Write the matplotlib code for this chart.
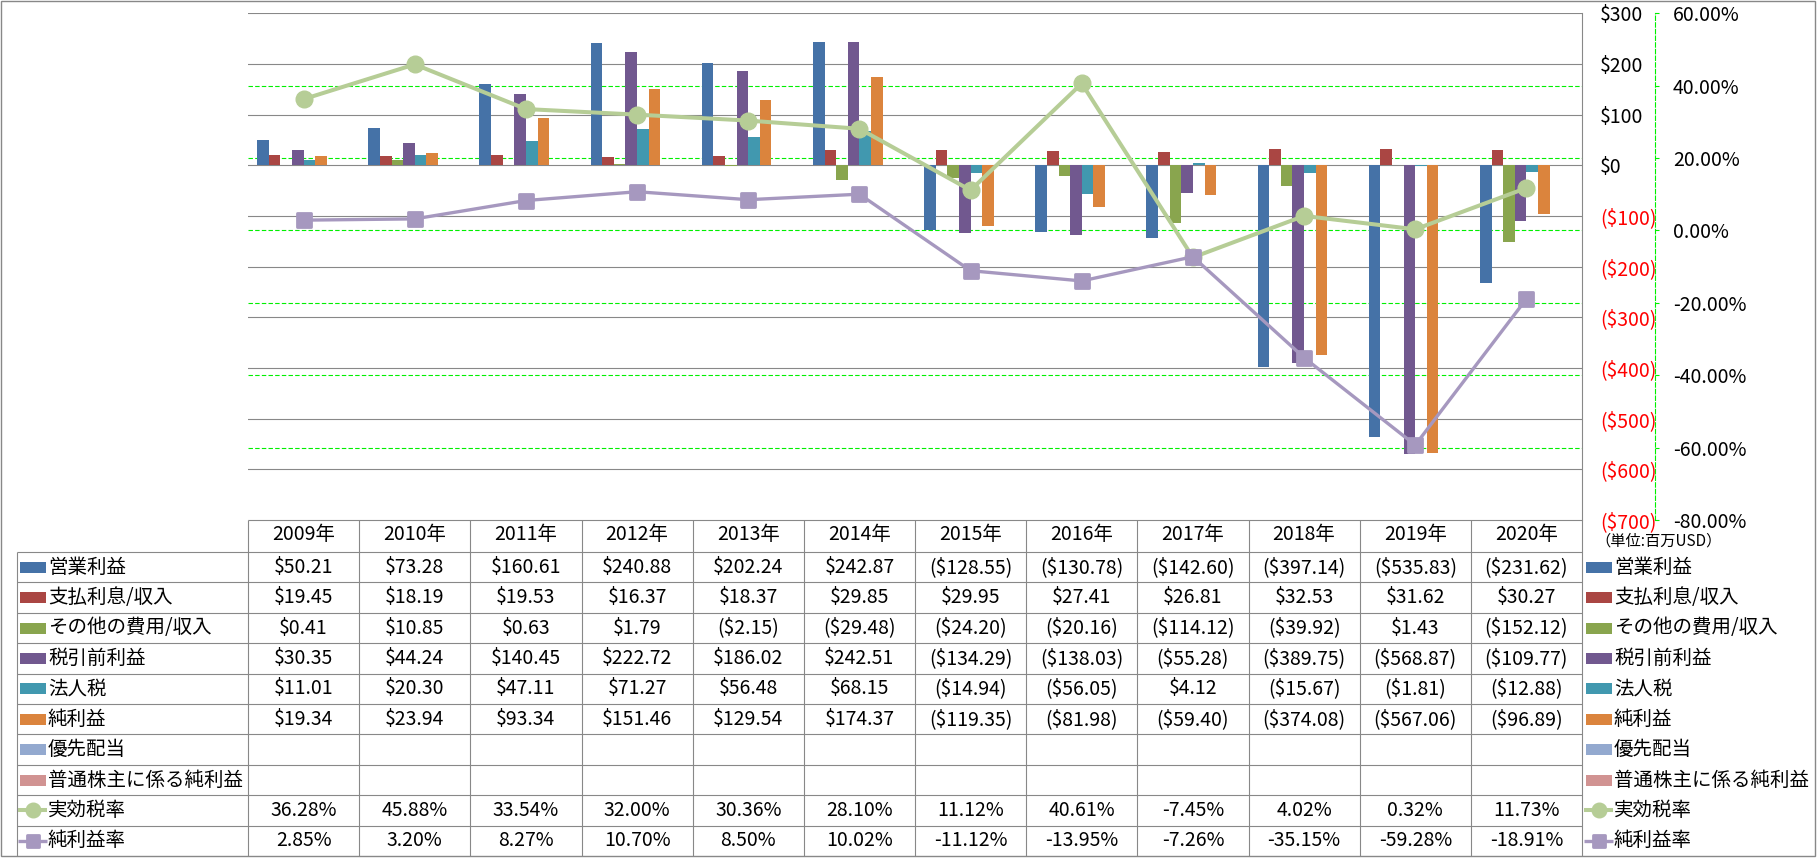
import matplotlib
matplotlib.use('Agg')
import matplotlib.pyplot as plt
import numpy as np
from matplotlib.markers import MarkerStyle
from matplotlib.patches import Rectangle
from matplotlib.lines import Line2D

plt.rcParams['font.family'] = ['Noto Sans CJK JP', 'DejaVu Sans']

# ---------------- data ----------------
years = ['2009年', '2010年', '2011年', '2012年', '2013年', '2014年',
         '2015年', '2016年', '2017年', '2018年', '2019年', '2020年']
operating_income = [50.21, 73.28, 160.61, 240.88, 202.24, 242.87,
                    -128.55, -130.78, -142.60, -397.14, -535.83, -231.62]
interest = [19.45, 18.19, 19.53, 16.37, 18.37, 29.85,
            29.95, 27.41, 26.81, 32.53, 31.62, 30.27]
other_expense = [0.41, 10.85, 0.63, 1.79, -2.15, -29.48,
                 -24.20, -20.16, -114.12, -39.92, 1.43, -152.12]
pretax_income = [30.35, 44.24, 140.45, 222.72, 186.02, 242.51,
                 -134.29, -138.03, -55.28, -389.75, -568.87, -109.77]
income_tax = [11.01, 20.30, 47.11, 71.27, 56.48, 68.15,
              -14.94, -56.05, 4.12, -15.67, -1.81, -12.88]
net_income = [19.34, 23.94, 93.34, 151.46, 129.54, 174.37,
              -119.35, -81.98, -59.40, -374.08, -567.06, -96.89]
preferred_div = [None] * 12
net_income_common = [None] * 12
eff_tax_rate = [36.28, 45.88, 33.54, 32.00, 30.36, 28.10,
                11.12, 40.61, -7.45, 4.02, 0.32, 11.73]
net_margin = [2.85, 3.20, 8.27, 10.70, 8.50, 10.02,
              -11.12, -13.95, -7.26, -35.15, -59.28, -18.91]

bar_labels = ['営業利益', '支払利息/収入', 'その他の費用/収入', '税引前利益',
              '法人税', '純利益', '優先配当', '普通株主に係る純利益']
bar_values = [operating_income, interest, other_expense, pretax_income,
              income_tax, net_income, preferred_div, net_income_common]
bar_colors = ['#4572A7', '#AA4643', '#89A54E', '#71588F',
              '#4198AF', '#DB843D', '#93A9CF', '#D19392']
line_labels = ['実効税率', '純利益率']
line_values = [eff_tax_rate, net_margin]
line_colors = ['#B6CD96', '#A698BF']

primary_ticks = list(range(-700, 301, 100))
secondary_ticks = list(range(-80, 61, 20))

# ---------------- layout (pixels) ----------------
W, H, DPI = 1817, 858, 100
PL, PR, PT, PB = 248, 1582, 13.3, 520
HDR_B = 552
ROW_H = 30.4
TL = 17
GRID_C = '#888888'
GREEN_GRID = '#00F000'
FS = 14


def money(v):
    if v is None:
        return ''
    return f'${v:.2f}' if v >= 0 else f'(${-v:.2f})'


def money_tick(v):
    return f'${v}' if v >= 0 else f'(${-v})'


def pct(v):
    return '' if v is None else f'{v:.2f}%'


fig = plt.figure(figsize=(W / DPI, H / DPI), dpi=DPI)
fig.patch.set_facecolor('white')

# overlay for table / borders in pixel coordinates
ov = fig.add_axes([0, 0, 1, 1], zorder=0)
ov.set_xlim(0, W)
ov.set_ylim(H, 0)
ov.axis('off')

# main chart axes
ax = fig.add_axes([PL / W, 1 - PB / H, (PR - PL) / W, (PB - PT) / H], zorder=1)
ax2 = ax.twinx()
ax.yaxis.tick_right()

n = len(years)
x = np.arange(n)
nb = len(bar_labels)
bw = 0.1045

for i, (vals, col) in enumerate(zip(bar_values, bar_colors)):
    if all(v is None for v in vals):
        continue
    ax.bar(x + (i - (nb - 1) / 2) * bw, vals, width=bw, color=col, zorder=2,
           linewidth=0)

ax.set_xlim(-0.5, n - 0.5)
ax.set_ylim(primary_ticks[0], primary_ticks[-1])
ax.set_autoscale_on(False)
ax.set_xticks([])
ax.set_yticks(primary_ticks)
ax.set_yticklabels([money_tick(v) for v in primary_ticks])
for t, v in zip(ax.get_yticklabels(), primary_ticks):
    t.set_color('red' if v < 0 else 'black')
ax.tick_params(axis='y', length=0, pad=13, labelsize=FS)
ax.yaxis.grid(True, color=GRID_C, lw=0.8, zorder=0.5)
ax.set_axisbelow(True)
for s in ['top', 'left', 'bottom']:
    ax.spines[s].set_visible(False)
ax.spines['right'].set_color(GRID_C)
ax.spines['right'].set_linewidth(0.8)

# secondary axis
ax2.set_ylim(secondary_ticks[0], secondary_ticks[-1])
ax2.set_yticks(secondary_ticks)
ax2.set_yticklabels([pct(v) for v in secondary_ticks])
for t, v in zip(ax2.get_yticklabels(), secondary_ticks):
    t.set_color('red' if v < 0 else 'black')
for s in ['top', 'left', 'bottom']:
    ax2.spines[s].set_visible(False)
ax2.spines['right'].set_position(('outward', 73 * 72 / DPI))
ax2.spines['right'].set_color(GREEN_GRID)
ax2.spines['right'].set_linestyle((0, (4, 2)))
ax2.spines['right'].set_linewidth(0.8)
ax2.tick_params(axis='y', length=3, width=0.8, color=GREEN_GRID, pad=10,
                labelsize=FS, direction='out')

# secondary gridlines drawn behind bars
for v in secondary_ticks[1:-1]:
    ax.add_line(Line2D([0, 1], [v, v], transform=ax2.get_yaxis_transform(),
                       color=GREEN_GRID, lw=0.8, linestyle=(0, (4, 2)), zorder=0.6))

# lines
ax2.plot(x, eff_tax_rate, color=line_colors[0], lw=2.9,
         marker=MarkerStyle('o'), ms=12, mfc=line_colors[0], mec=line_colors[0],
         zorder=3)
ax2.plot(x, net_margin, color=line_colors[1], lw=2.4,
         marker=MarkerStyle('s', joinstyle='round'), ms=10.5, mew=2,
         mfc=line_colors[1], mec=line_colors[1], zorder=4)

# ---------------- table ----------------
colw = (PR - PL) / n
nrows = len(bar_labels) + len(line_labels)
row_bounds = [HDR_B + k * ROW_H for k in range(nrows + 1)]
bottom = row_bounds[-1]

lkw = dict(color=GRID_C, lw=0.8, solid_capstyle='butt')
ov.plot([PL, PR], [PB, PB], **lkw)
for yb in row_bounds[:-1]:
    ov.plot([TL, PR], [yb, yb], **lkw)
ov.plot([TL, TL], [HDR_B, bottom], **lkw)
for k in range(n + 1):
    xx = PL + k * colw
    ov.plot([xx, xx], [PB, bottom], **lkw)

# header
for k, yl in enumerate(years):
    ov.text(PL + (k + 0.5) * colw, (PB + HDR_B) / 2 - 1, yl, ha='center',
            va='center', fontsize=FS, color='black')

ov.text(1595, 541, '（単位:百万USD）', ha='left', va='center', fontsize=11,
        color='black')

rows = [(lab, vals, 'bar', col) for lab, vals, col in zip(bar_labels, bar_values, bar_colors)]
rows += [(lab, vals, 'line', col) for lab, vals, col in zip(line_labels, line_values, line_colors)]

for r, (lab, vals, kind, col) in enumerate(rows):
    yc = (row_bounds[r] + row_bounds[r + 1]) / 2
    for k, v in enumerate(vals):
        s = money(v) if kind == 'bar' else pct(v)
        ov.text(PL + (k + 0.5) * colw, yc, s, ha='center', va='center',
                fontsize=FS, color='black')
    for kx, tx in [(20, 48), (1586, 1614)]:
        if kind == 'bar':
            ov.add_patch(Rectangle((kx, yc - 5.5), 26, 11, facecolor=col,
                                   edgecolor='none'))
        else:
            if r == len(bar_labels):
                ov.plot([kx - 2, kx + 27], [yc, yc], color=col, lw=2.9,
                        solid_capstyle='butt')
                ov.plot([kx + 12.5], [yc], marker='o', ms=10.5, color=col)
            else:
                ov.plot([kx - 2, kx + 27], [yc, yc], color=col, lw=2.4,
                        solid_capstyle='butt')
                ov.plot([kx + 12.5], [yc], marker=MarkerStyle('s', joinstyle='round'),
                        ms=9, mew=2, color=col)
        ov.text(tx, yc, lab, ha='left', va='center', fontsize=FS, color='black')

# figure border
ov.add_patch(Rectangle((1, 1), W - 3, H - 3, facecolor='none', edgecolor=GRID_C,
                       lw=1.0))

fig.savefig('out.png', dpi=DPI, facecolor='white')
